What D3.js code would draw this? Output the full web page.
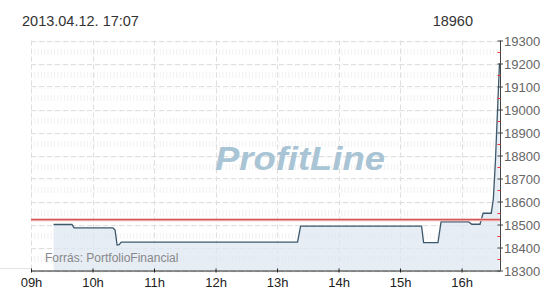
<!DOCTYPE html>
<html><head><meta charset="utf-8">
<script src="https://cdn.jsdelivr.net/npm/d3@7"></script>
<style>body{margin:0;background:#fff}svg{display:block;font-family:"Liberation Sans",Arial,sans-serif}</style>
</head><body><svg id="c" width="550" height="300"></svg>
<script>
const titleText = "2013.04.12. 17:07";
const lastValue = "18960";
const sourceText = "Forrás: PortfolioFinancial";
const watermark = "ProfitLine";
const hourLabels = ["09h","10h","11h","12h","13h","14h","15h","16h"];
const hourTimes = ["09:00","10:00","11:00","12:00","13:00","14:00","15:00","16:00"];
const yTickValues = [18300,18400,18500,18600,18700,18800,18900,19000,19100,19200,19300];
const yMinorValues = [18350,18450,18550,18650,18750,18850,18950,19050,19150,19250];
const times = ["09:22","09:40","09:42","10:20","10:22","10:24","10:26","10:28","13:20","13:23","15:21","15:23","15:37","15:40","16:07","16:10","16:18","16:21","16:29","16:31","16:33","16:37"];
const values = [18500,18500,18485,18485,18476,18411,18412,18423,18423,18493,18493,18421,18421,18511,18511,18501,18501,18549,18549,18610,18770,19200];
const refValue = 18521;
const domainTimes = ["09:00","16:38"];

const parse = d3.timeParse("%H:%M");
const svg = d3.select("#c");
const L = 31, R = 500.5, T = 40.5, B = 270.5;
const x = d3.scaleTime().domain(domainTimes.map(parse)).range([L, R]);
const y = d3.scaleLinear().domain([18300, 19300]).range([B, T]);
const data = times.map((t, i) => ({t: parse(t), v: values[i]}));

// hatch bands (minor)
svg.append("g").selectAll("line").data(yMinorValues).join("line")
  .attr("x1", L).attr("x2", R).attr("y1", d => y(d)).attr("y2", d => y(d))
  .attr("stroke", "#f1f1f1").attr("stroke-width", 6).attr("stroke-dasharray", "1,2.3");
svg.append("g").selectAll("line").data(yTickValues).join("line")
  .attr("x1", L).attr("x2", R).attr("y1", d => y(d) + 1.5).attr("y2", d => y(d) + 1.5)
  .attr("stroke", "#f3f3f3").attr("stroke-width", 2).attr("stroke-dasharray", "1,2.3");
// major horizontal grid
svg.append("g").selectAll("line").data(yTickValues).join("line")
  .attr("x1", L).attr("x2", R).attr("y1", d => Math.round(y(d)) + 0.5).attr("y2", d => Math.round(y(d)) + 0.5)
  .attr("stroke", "#dedede").attr("stroke-dasharray", "5,3");
// vertical grid
svg.append("g").selectAll("line").data(hourTimes.map(parse)).join("line")
  .attr("x1", d => Math.round(x(d)) + 0.5).attr("x2", d => Math.round(x(d)) + 0.5)
  .attr("y1", T).attr("y2", B)
  .attr("stroke", "#dedede").attr("stroke-dasharray", "5,3");

// watermark
svg.append("text").attr("x", 215).attr("y", 170).attr("textLength", 170).attr("lengthAdjust", "spacingAndGlyphs")
  .attr("font-size", 33).attr("font-weight", "bold").attr("font-style", "italic")
  .attr("fill", "#a9c4d4").text(watermark);

// area + line
svg.append("path").datum(data)
  .attr("d", d3.area().x(d => x(d.t)).y0(B).y1(d => y(d.v)))
  .attr("fill", "#dde7f1").attr("fill-opacity", 0.75);
svg.append("path").datum(data)
  .attr("d", d3.line().x(d => x(d.t)).y(d => y(d.v)))
  .attr("fill", "none").attr("stroke", "#3d586b").attr("stroke-width", 1.3);

// reference line
svg.append("line").attr("x1", L).attr("x2", R).attr("y1", y(refValue)).attr("y2", y(refValue))
  .attr("stroke", "#f2b8b8").attr("stroke-width", 3);
svg.append("line").attr("x1", L).attr("x2", R).attr("y1", y(refValue)).attr("y2", y(refValue))
  .attr("stroke", "#cc4444").attr("stroke-width", 1);

// source text
svg.append("text").attr("x", 45).attr("y", 262).attr("font-size", 12).attr("fill", "#888").text(sourceText);

// faint left line
svg.append("line").attr("x1", 0).attr("x2", L).attr("y1", 268.5).attr("y2", 268.5).attr("stroke", "#e4e4e4");

// x axis
const xAxis = d3.axisBottom(x).tickValues(hourTimes.map(parse)).tickSize(3).tickFormat((d, i) => hourLabels[i]);
const gx = svg.append("g").attr("transform", `translate(0,${B})`).call(xAxis);
gx.select(".domain").attr("d", `M${L},0.5H${R}`).attr("stroke", "#222");
gx.selectAll(".tick line").attr("stroke", "#222").attr("y1", -2).attr("y2", 2);
gx.selectAll(".tick text").attr("font-size", 13).attr("fill", "#222").attr("font-family", "Liberation Sans, Arial").attr("dy", "0").attr("y", 16.5);

// y axis
const yAxis = d3.axisRight(y).tickValues(yTickValues).tickSize(2.5).tickFormat(d3.format("d"));
const gy = svg.append("g").attr("transform", `translate(${R},0)`).call(yAxis);
gy.select(".domain").attr("d", `M0,${T}V${B}`).attr("stroke", "#444");
gy.selectAll(".tick line").attr("x1", -3).attr("x2", 2.5).attr("stroke", "#444");
gy.selectAll(".tick text").attr("font-size", 13).attr("fill", "#666").attr("font-family", "Liberation Sans, Arial").attr("x", 3.5).attr("dy", "0.36em");
svg.append("g").selectAll("line").data(yMinorValues).join("line")
  .attr("x1", R - 3).attr("x2", R).attr("y1", d => Math.round(y(d)) + 0.5).attr("y2", d => Math.round(y(d)) + 0.5)
  .attr("stroke", "#e33");

// header
svg.append("text").attr("x", 22).attr("y", 26).attr("font-size", 14.5).attr("fill", "#333").text(titleText);
svg.append("text").attr("x", 473).attr("y", 26).attr("text-anchor", "end").attr("font-size", 14.5).attr("fill", "#333").text(lastValue);
</script></body></html>
